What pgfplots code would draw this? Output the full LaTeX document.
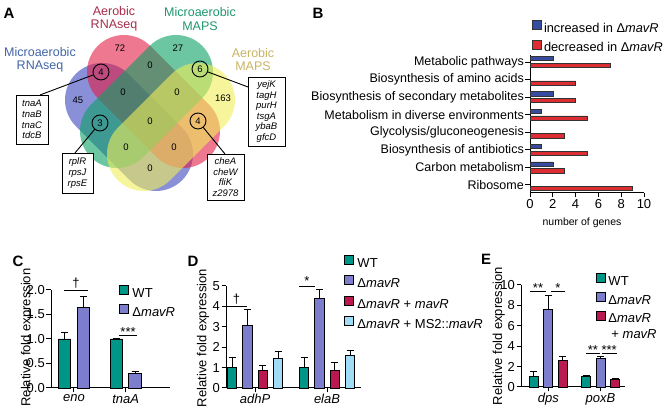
\documentclass[border=0pt]{standalone}
\usepackage{fontspec}
\setmainfont{Liberation Sans}
\usepackage{pgfplots}
\pgfplotsset{compat=1.18}

\definecolor{vblue}{RGB}{60,70,190}
\definecolor{vred}{RGB}{225,30,70}
\definecolor{vgreen}{RGB}{10,160,100}
\definecolor{vyellow}{RGB}{240,238,90}
\definecolor{labred}{RGB}{165,45,75}
\definecolor{labgreen}{RGB}{30,150,110}
\definecolor{labblue}{RGB}{65,100,165}
\definecolor{labtan}{RGB}{200,180,100}
\definecolor{wtc}{RGB}{0,150,135}
\definecolor{mavc}{RGB}{125,125,205}
\definecolor{compc}{RGB}{185,25,80}
\definecolor{msc}{RGB}{160,220,245}
\definecolor{incc}{RGB}{55,75,160}
\definecolor{decc}{RGB}{220,45,50}

\newcommand\fsz[2]{\fontsize{#1}{#2}\selectfont}

\pgfplotsset{
  panel/.style={scale only axis, axis lines=left, axis line style={-, line width=1pt},
    tick style={black, line width=1pt}, tick align=outside, major tick length=4.5pt,
    enlargelimits=false, clip=false,
    /pgf/number format/assume math mode=true,
    tick label style={font=\fsz{13}{13}, inner sep=1.5pt},
    ylabel style={font=\fsz{13}{13}},
    legend style={draw=none, fill=none, inner sep=0pt, outer sep=0pt, font=\fsz{13}{13},
      nodes={inner sep=0pt, text height=9.5pt, text depth=3pt}},
    legend cell align=left,
    legend image code/.code={\draw[##1, line width=0.8pt] (0pt,-0.5pt) rectangle (9pt,8.5pt);}},
  ebar/.style 2 args={ybar, bar width=#1, bar shift=0pt, fill=#2, draw=black, line width=0.9pt,
    forget plot,
    error bars/y dir=plus, error bars/y explicit,
    error bars/error bar style={black, line width=0.9pt},
    error bars/error mark options={black, rotate=90, mark size=3.5pt, line width=0.9pt}}
}

\begin{document}
\begin{tikzpicture}[x=1pt,y=1pt]
\useasboundingbox (0,0) rectangle (665,411);

% panel letters
\begin{scope}[every node/.style={font=\fsz{15}{15}\bfseries}]
  \node at (9,398) {A};
  \node at (318,398) {B};
  \node at (18,150) {C};
  \node at (193,150) {D};
  \node at (486,152) {E};
\end{scope}

% ---- A: Venn diagram (four rotated stadium shapes)
\begin{scope}[fill opacity=0.6]
  \fill[vblue] (128.16,337.16) -- (182.16,283.16) arc[start angle=45, end angle=-135, radius=37]
    -- (75.84,284.84) arc[start angle=-135, end angle=-315, radius=37] -- cycle;
  \fill[vred] (150.16,365.16) -- (209.16,306.16) arc[start angle=45, end angle=-135, radius=37]
    -- (97.84,312.84) arc[start angle=-135, end angle=-315, radius=37] -- cycle;
  \fill[vgreen] (202.16,312.84) -- (143.16,253.84) arc[start angle=-45, end angle=-225, radius=37]
    -- (149.84,365.16) arc[start angle=135, end angle=-45, radius=37] -- cycle;
  \fill[vyellow] (224.16,284.84) -- (170.16,230.84) arc[start angle=-45, end angle=-225, radius=37]
    -- (171.84,337.16) arc[start angle=135, end angle=-45, radius=37] -- cycle;
\end{scope}

\node[align=center, font=\fsz{12.5}{13.5}, text=labred] at (114,392) {Aerobic\\RNAseq};
\node[align=center, font=\fsz{12.5}{13.5}, text=labgreen] at (200,392) {Microaerobic\\MAPS};
\node[align=center, font=\fsz{12.5}{13.5}, text=labblue] at (40,351) {Microaerobic\\RNAseq};
\node[align=center, font=\fsz{12.5}{13.5}, text=labtan] at (253,351.5) {Aerobic\\MAPS};

\begin{scope}[every node/.style={font=\fsz{9.5}{10}}]
  \node at (120,363) {72};
  \node at (178,363) {27};
  \node at (78,311) {45};
  \node at (223,313) {163};
  \node at (150,346) {0};
  \node at (123,319) {0};
  \node at (177,319) {0};
  \node at (150,290) {0};
  \node at (126,264) {0};
  \node at (174,264) {0};
  \node at (150,243) {0};
  \node at (101,339) {4};
  \node at (100,288) {3};
  \node at (200,342) {6};
  \node at (198,290) {4};
\end{scope}
\begin{scope}[line width=0.9pt]
  \draw (101,339) circle (8);
  \draw (100,288) circle (8);
  \draw (200,342) circle (8);
  \draw (198,290) circle (8);
  \draw (93.5,336.2) -- (40,316);
  \draw (94.9,281.9) -- (75,258);
  \draw (207.5,339.2) -- (248,324);
  \draw (203.1,283.8) -- (225,257);
\end{scope}
\begin{scope}[every node/.style={draw, line width=0.8pt, fill=white, align=center, inner sep=0pt,
    font=\fsz{9.5}{10.6}\itshape}]
  \node[minimum width=32pt, minimum height=49pt] at (32,291.5) {tnaA\\tnaB\\tnaC\\tdcB};
  \node[minimum width=31pt, minimum height=40pt] at (77.5,238) {rplR\\rpsJ\\rpsE};
  \node[minimum width=37pt, minimum height=69pt] at (266.5,299.5) {yejK\\tagH\\purH\\tsgA\\ybaB\\gfcD};
  \node[minimum width=37pt, minimum height=46pt] at (225.5,234) {cheA\\cheW\\fliK\\z2978};
\end{scope}

% ---- B: KEGG categories
\begin{axis}[panel, at={(530pt,218pt)}, anchor=south west, width=114pt, height=138pt,
    xmin=0, xmax=10, ymin=-0.455, ymax=7.4,
    xtick={0,2,...,10}, ytick={0,...,7},
    yticklabels={Ribosome, Carbon metabolism, Biosynthesis of antibiotics,
      Glycolysis/gluconeogenesis, Metabolism in diverse environments,
      Biosynthesis of secondary metabolites, Biosynthesis of amino acids, Metabolic pathways},
    yticklabel style={font=\fsz{12.5}{13}},
    xlabel={number of genes},
    xlabel style={font=\fsz{10.5}{11}, at={(axis description cs:0.456,-0.217)}, anchor=center},
    legend style={at={(axis description cs:0.015,1.2536)}, anchor=north west, row sep=4.5pt,
      font=\fsz{12.8}{13}, /tikz/every odd column/.append style={column sep=2.5pt}}]
  \addplot[xbar, bar width=4.3pt, bar shift=3.4pt, fill=incc, draw=black!80, line width=0.6pt, forget plot]
    coordinates {(2,7) (2,5) (1,4) (1,2) (2,1)};
  \addplot[xbar, bar width=4.3pt, bar shift=-3.4pt, fill=decc, draw=black!80, line width=0.6pt, forget plot]
    coordinates {(7,7) (4,6) (4,5) (5,4) (3,3) (5,2) (3,1) (9,0)};
  \addlegendimage{fill=incc, draw=black!80}
  \addlegendentry{increased in Δ\textit{mavR}}
  \addlegendimage{fill=decc, draw=black!80}
  \addlegendentry{decreased in Δ\textit{mavR}}
\end{axis}

% ---- C
\begin{axis}[panel, at={(51pt,23pt)}, anchor=south west, width=119pt, height=98pt,
    xmin=-0.442, xmax=1.855, ymin=0, ymax=2,
    ytick={0,0.5,...,2},
    yticklabel style={/pgf/number format/fixed, /pgf/number format/fixed zerofill,
      /pgf/number format/precision=1},
    xtick={0,1}, xticklabels={\textit{eno},\textit{tnaA}},
    ylabel={Relative fold expression},
    ylabel style={at={(axis description cs:-0.2017,0.515)}, anchor=center},
    legend style={at={(axis description cs:0.5714,1.051)}, anchor=north west, row sep=4.2pt,
      /tikz/every odd column/.append style={column sep=3.7pt}}]
  \addplot[ebar={12.5pt}{wtc}] coordinates {(-0.1815,1.0) +- (0,0.13) (0.8185,1.0) +- (0,0.01)};
  \addplot[ebar={12.5pt}{mavc}] coordinates {(0.1815,1.65) +- (0,0.22) (1.1815,0.29) +- (0,0.04)};
  \addlegendimage{fill=wtc, draw=black}
  \addlegendentry{WT}
  \addlegendimage{fill=mavc, draw=black}
  \addlegendentry{Δ\textit{mavR}}
  \draw[line width=0.8pt] (axis cs:-0.191,2.0) -- (axis cs:0.272,2.0);
  \node[anchor=base, font=\fsz{13}{13}, inner sep=0pt] at ([yshift=2pt]axis cs:0.04,2.0) {†};
  \draw[line width=0.8pt] (axis cs:0.871,1.08) -- (axis cs:1.218,1.08);
  \node[anchor=base, font=\fsz{13}{13}, inner sep=0pt] at ([yshift=-1pt]axis cs:1.045,1.08) {***};
\end{axis}

% ---- D
\begin{axis}[panel, at={(226pt,23pt)}, anchor=south west, width=135pt, height=102pt,
    xmin=-0.403, xmax=1.472, ymin=0, ymax=5,
    ytick={0,...,5},
    xtick={0,1}, xticklabels={\textit{adhP},\textit{elaB}},
    ylabel={Relative fold expression},
    ylabel style={at={(axis description cs:-0.170,0.49)}, anchor=center},
    legend style={at={(axis description cs:0.874,1.304)}, anchor=north west, row sep=5.3pt,
      /tikz/every odd column/.append style={column sep=3.7pt}}]
  \addplot[ebar={9.3pt}{wtc}] coordinates {(-0.3194,1.0) +- (0,0.48) (0.6806,1.0) +- (0,0.49)};
  \addplot[ebar={9.3pt}{mavc}] coordinates {(-0.1069,3.05) +- (0,0.8) (0.8931,4.38) +- (0,0.46)};
  \addplot[ebar={9.3pt}{compc}] coordinates {(0.1069,0.88) +- (0,0.24) (1.1069,0.87) +- (0,0.36)};
  \addplot[ebar={9.3pt}{msc}] coordinates {(0.3194,1.43) +- (0,0.34) (1.3194,1.59) +- (0,0.26)};
  \addlegendimage{fill=wtc, draw=black}
  \addlegendentry{WT}
  \addlegendimage{fill=mavc, draw=black}
  \addlegendentry{Δ\textit{mavR}}
  \addlegendimage{fill=compc, draw=black}
  \addlegendentry{Δ\textit{mavR} + \textit{mavR}}
  \addlegendimage{fill=msc, draw=black}
  \addlegendentry{Δ\textit{mavR} + MS2::\textit{mavR}}
  \draw[line width=0.8pt] (axis cs:-0.403,4) -- (axis cs:-0.111,4);
  \node[anchor=base, font=\fsz{13}{13}, inner sep=0pt] at ([yshift=3pt]axis cs:-0.257,4) {†};
  \draw[line width=0.8pt] (axis cs:0.611,5) -- (axis cs:0.833,5);
  \node[anchor=base, font=\fsz{13}{13}, inner sep=0pt] at ([yshift=0pt]axis cs:0.722,5) {*};
\end{axis}

% ---- E
\begin{axis}[panel, at={(521pt,24pt)}, anchor=south west, width=104pt, height=102pt,
    xmin=-0.523, xmax=1.469, ymin=0, ymax=10,
    ytick={0,2,...,10},
    xtick={0,1}, xticklabels={\textit{dps},\textit{poxB}},
    ylabel={Relative fold expression},
    ylabel style={at={(axis description cs:-0.215,0.5)}, anchor=center},
    legend style={at={(axis description cs:0.721,1.115)}, anchor=north west, row sep=3.5pt,
      /tikz/every odd column/.append style={column sep=2.7pt}}]
  \addplot[ebar={9pt}{wtc}] coordinates {(-0.2778,1.0) +- (0,0.55) (0.7222,1.0) +- (0,0.17)};
  \addplot[ebar={9pt}{mavc}] coordinates {(0,7.62) +- (0,1.35) (1,2.77) +- (0,0.23)};
  \addplot[ebar={9pt}{compc}] coordinates {(0.2778,2.6) +- (0,0.4) (1.2778,0.78) +- (0,0.08)};
  \addlegendimage{fill=wtc, draw=black}
  \addlegendentry{WT}
  \addlegendimage{fill=mavc, draw=black}
  \addlegendentry{Δ\textit{mavR}}
  \addlegendimage{fill=compc, draw=black}
  \addlegendentry{Δ\textit{mavR}}
  \addlegendimage{empty legend}
  \addlegendentry{\hspace{3pt}+ \textit{mavR}}
  \draw[line width=0.8pt] (axis cs:-0.35,9.4) -- (axis cs:-0.044,9.4);
  \node[anchor=base, font=\fsz{13}{13}, inner sep=0pt] at ([yshift=-1pt]axis cs:-0.197,9.4) {**};
  \draw[line width=0.8pt] (axis cs:0.052,9.4) -- (axis cs:0.32,9.4);
  \node[anchor=base, font=\fsz{13}{13}, inner sep=0pt] at ([yshift=-1pt]axis cs:0.186,9.4) {*};
  \draw[line width=0.8pt] (axis cs:0.722,3.3) -- (axis cs:0.99,3.3);
  \node[anchor=base, font=\fsz{13}{13}, inner sep=0pt] at ([yshift=-1pt]axis cs:0.856,3.3) {**};
  \draw[line width=0.8pt] (axis cs:1.02,3.3) -- (axis cs:1.31,3.3);
  \node[anchor=base, font=\fsz{13}{13}, inner sep=0pt] at ([yshift=-1pt]axis cs:1.165,3.3) {***};
\end{axis}
\end{tikzpicture}
\end{document}
